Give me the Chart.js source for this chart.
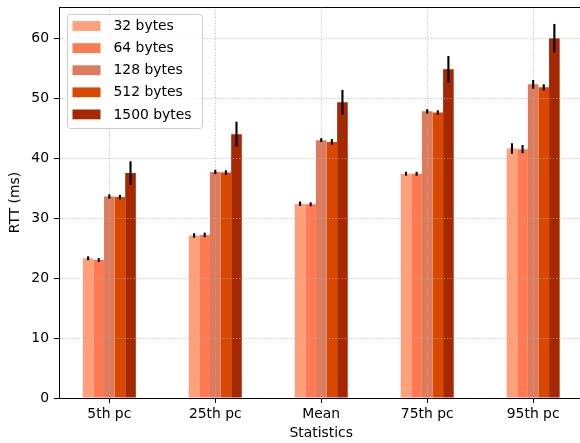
<!DOCTYPE html>
<html>
<head>
<meta charset="utf-8">
<script src="https://cdn.jsdelivr.net/npm/chart.js@4/dist/chart.umd.min.js"></script>
<style>
  html, body { margin: 0; padding: 0; background: #fff; width: 580px; height: 443px; overflow: hidden; }
  canvas { display: block; }
</style>
</head>
<body>
<canvas id="chart" width="590" height="443"></canvas>
<script>
// Round-trip time statistics per packet size
const categories = ['5th pc', '25th pc', 'Mean', '75th pc', '95th pc'];
const packetSizes = ['32 bytes', '64 bytes', '128 bytes', '512 bytes', '1500 bytes'];

const rtt32   = [23.3, 27.1, 32.4, 37.4, 41.6];
const rtt64   = [23.0, 27.2, 32.3, 37.4, 41.5];
const rtt128  = [33.6, 37.7, 43.0, 47.8, 52.3];
const rtt512  = [33.5, 37.6, 42.7, 47.6, 51.8];
const rtt1500 = [37.5, 44.0, 49.3, 54.8, 60.0];

const err32   = [0.15, 0.2, 0.2, 0.15, 0.7];
const err64   = [0.15, 0.2, 0.15, 0.15, 0.5];
const err128  = [0.2, 0.2, 0.15, 0.2, 0.55];
const err512  = [0.2, 0.2, 0.3, 0.2, 0.35];
const err1500 = [1.8, 1.9, 1.9, 2.05, 2.2];

const yTicks = [0, 10, 20, 30, 40, 50, 60];

const seriesValues = [rtt32, rtt64, rtt128, rtt512, rtt1500];
const seriesErrors = [err32, err64, err128, err512, err1500];
const seriesColors = ['#FFA07A', '#FF7A52', '#DE7B5C', '#D94801', '#A62803'];

const FONT = { family: '"DejaVu Sans", sans-serif', size: 13.9 };

const datasets = packetSizes.map((name, s) => ({
  label: name,
  data: seriesValues[s].map((v, i) => ({ x: i, y: v })),
  errors: seriesErrors[s],
  backgroundColor: seriesColors[s],
  borderWidth: 0,
  categoryPercentage: 0.5,
  barPercentage: 1.0
}));

// vertical error bars, centred on each bar
const errorBars = {
  id: 'errorBars',
  afterDraw(chart) {
    const ctx = chart.ctx;
    const yScale = chart.scales.y;
    ctx.save();
    ctx.strokeStyle = '#000';
    ctx.lineWidth = 2.1;
    ctx.lineCap = 'square';
    chart.data.datasets.forEach((ds, di) => {
      const meta = chart.getDatasetMeta(di);
      meta.data.forEach((bar, i) => {
        const v = ds.data[i].y, e = ds.errors[i];
        ctx.beginPath();
        ctx.moveTo(bar.x, yScale.getPixelForValue(v + e));
        ctx.lineTo(bar.x, yScale.getPixelForValue(v - e));
        ctx.stroke();
      });
    });
    ctx.restore();
  }
};

// top spine and framed legend in the upper-left corner of the plot
const frameAndLegend = {
  id: 'frameAndLegend',
  afterDraw(chart) {
    const ctx = chart.ctx;
    const a = chart.chartArea;
    ctx.save();
    ctx.strokeStyle = '#000';
    ctx.lineWidth = 1;
    ctx.beginPath();
    ctx.moveTo(a.left, a.top + 0.5);
    ctx.lineTo(a.right, a.top + 0.5);
    ctx.stroke();

    const x0 = a.left + 8.5, y0 = a.top + 7.5, w = 135, h = 114;
    const r = 3;
    ctx.beginPath();
    ctx.moveTo(x0 + r, y0);
    ctx.arcTo(x0 + w, y0, x0 + w, y0 + h, r);
    ctx.arcTo(x0 + w, y0 + h, x0, y0 + h, r);
    ctx.arcTo(x0, y0 + h, x0, y0, r);
    ctx.arcTo(x0, y0, x0 + w, y0, r);
    ctx.closePath();
    ctx.fillStyle = 'rgba(255,255,255,0.8)';
    ctx.fill();
    ctx.strokeStyle = '#cccccc';
    ctx.lineWidth = 1;
    ctx.stroke();

    ctx.font = `${FONT.size}px ${FONT.family}`;
    ctx.textBaseline = 'middle';
    ctx.textAlign = 'left';
    chart.data.datasets.forEach((ds, i) => {
      const cy = a.top + 19 + i * 22.1;
      ctx.fillStyle = ds.backgroundColor;
      ctx.fillRect(x0 + 5, cy - 4.9, 28, 9.8);
      ctx.fillStyle = '#000';
      ctx.fillText(ds.label, x0 + 46, cy + 0.5);
    });
    ctx.restore();
  }
};

const gridStyle = {
  z: 1, offset: false, color: 'rgba(176,176,176,0.8)', lineWidth: 1,
  tickColor: '#000', tickLength: 5, tickWidth: 1
};
const borderStyle = { display: true, color: '#000', width: 1, z: 2, dash: [1.2, 2] };

new Chart(document.getElementById('chart'), {
  type: 'bar',
  data: { datasets },
  options: {
    responsive: false,
    animation: false,
    events: [],
    layout: { padding: { top: 7, right: 6.5, left: 0, bottom: 0 } },
    plugins: { legend: { display: false }, tooltip: { enabled: false } },
    scales: {
      x: {
        type: 'linear',
        min: -0.475,
        max: 4.475,
        offset: false,
        afterBuildTicks: (scale) => { scale.ticks = categories.map((_, i) => ({ value: i })); },
        afterFit: (scale) => { scale.height = 45; scale.paddingLeft = 0; scale.paddingRight = 0; },
        ticks: {
          font: FONT, color: '#000', padding: 3,
          autoSkip: false, maxRotation: 0,
          callback: (v) => categories[v]
        },
        grid: gridStyle,
        border: borderStyle,
        title: { display: true, text: 'Statistics', font: FONT, color: '#000', padding: { top: 0, bottom: 1 } }
      },
      y: {
        type: 'linear',
        min: 0,
        max: 65.2,
        afterBuildTicks: (scale) => { scale.ticks = yTicks.map(v => ({ value: v })); },
        afterFit: (scale) => { scale.width = 59; scale.paddingTop = 0; scale.paddingBottom = 0; },
        ticks: { font: FONT, color: '#000', padding: 5 },
        grid: gridStyle,
        border: borderStyle,
        title: { display: true, text: 'RTT (ms)', font: FONT, color: '#000', padding: { top: 7, bottom: 0 } }
      }
    }
  },
  plugins: [errorBars, frameAndLegend]
});
</script>
</body>
</html>
